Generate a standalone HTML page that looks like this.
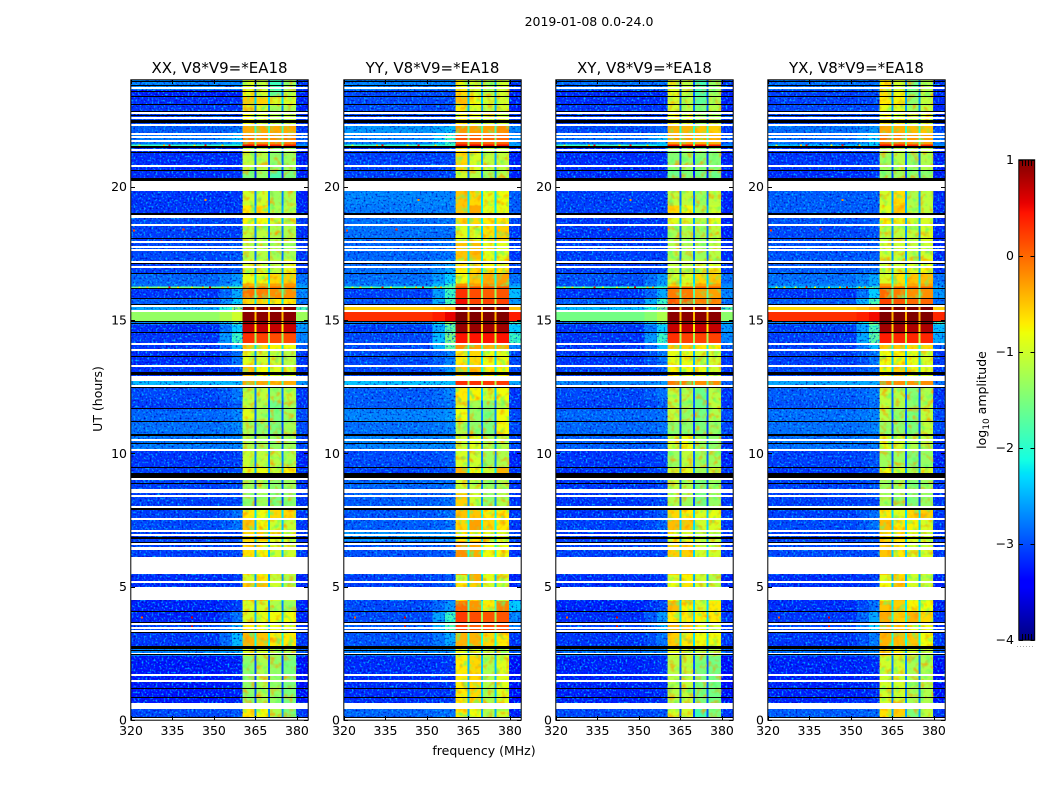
<!DOCTYPE html>
<html lang="en">
<head>
<meta charset="utf-8">
<title>2019-01-08 0.0-24.0</title>
<style>
  html, body { margin: 0; padding: 0; background: #fff; }
  svg { display: block; }
  text { font-family: "DejaVu Sans", "Liberation Sans", sans-serif; fill: #000; }
  .cell { shape-rendering: crispEdges; }
</style>
</head>
<body>
<svg id="chart" width="1050" height="800" viewBox="0 0 1050 800" xmlns="http://www.w3.org/2000/svg">
  <defs>
    <filter id="speckle" x="0" y="0" width="1" height="1" color-interpolation-filters="sRGB">
      <feTurbulence type="fractalNoise" baseFrequency="0.5" numOctaves="1" seed="3" result="n1"/>
      <feColorMatrix in="n1" type="matrix" values="0 0 0 0 0  0 0 0 0 .72  0 0 0 0 1  3.5 0 0 0 -1.75" result="light"/>
      <feColorMatrix in="n1" type="matrix" values="0 0 0 0 0  0 0 0 0 0  0 0 0 0 .7  0 3 0 0 -1.6" result="dark"/>
      <feMerge><feMergeNode in="light"/><feMergeNode in="dark"/></feMerge>
    </filter>
    <filter id="mottle" x="0" y="0" width="1" height="1" color-interpolation-filters="sRGB">
      <feTurbulence type="fractalNoise" baseFrequency="0.16" numOctaves="2" seed="8" result="n2"/>
      <feColorMatrix in="n2" type="matrix" values="0 0 0 0 1  0 0 0 0 .6  0 0 0 0 0  2.4 0 0 0 -1.2" result="warm"/>
      <feColorMatrix in="n2" type="matrix" values="0 0 0 0 .35  0 0 0 0 1  0 0 0 0 .45  0 2.4 0 0 -1.25" result="cool"/>
      <feMerge><feMergeNode in="warm"/><feMergeNode in="cool"/></feMerge>
    </filter>
  </defs>
  <text x="589" y="26" font-size="12.5" text-anchor="middle">2019-01-08 0.0-24.0</text>
  <text transform="translate(102,399) rotate(-90)" font-size="12.5" text-anchor="middle">UT (hours)</text>
  <text x="484" y="755" font-size="12.5" text-anchor="middle">frequency (MHz)</text>
  <text transform="translate(986,400) rotate(-90)" font-size="12.5" text-anchor="middle">log<tspan font-size="9" dy="3">10</tspan><tspan dy="-3"> amplitude</tspan></text>
</svg>
<script>
// ---- Chart data (hours, MHz, log10 amplitude) ----
const panelTitles = ["XX, V8*V9=*EA18", "YY, V8*V9=*EA18", "XY, V8*V9=*EA18", "YX, V8*V9=*EA18"];
const xTicks = [320, 335, 350, 365, 380];
const yTicks = [0, 5, 10, 15, 20];
const colorbarTicks = [-4, -3, -2, -1, 0, 1];

// Top edge (UT hours) of each time row; each row ends at the next one's top, the last at 0.
const rowTops = [24.00,23.62,23.36,23.05,22.79,22.30,22.00,21.59,21.48,20.61,19.83,19.30,19.00,18.55,17.99,17.27,16.75,16.37,16.25,16.18,15.81,15.55,15.32,14.95,14.83,14.50,14.12,13.89,13.29,12.73,12.50,11.98,11.64,11.19,10.70,10.14,9.46,9.09,8.49,7.92,7.55,7.10,6.72,5.44,5.14,4.47,4.06,3.64,3.27,2.74,2.40,0.64,0.41];

// Each row: [background, edge-of-band, block1, block2, block3, block4, above-band]
const seriesXX = [
[-2.4,-2.4,-.9,-1.1,-1.9,-1.3,-2.8],[-2.9,-2.9,-.85,-1,-1.7,-1.1,-2.9],[-2.85,-2.85,-.5,-.55,-.95,-.95,-2.9],[-2.8,-2.8,-.95,-1,-1.3,-1.2,-2.9],
[-2.7,-2.7,-.8,-1,-1.2,-1.1,-2.8],[-2.6,-2.5,-.35,-.35,-.35,-.35,-2.8],[-2.45,-2.1,-.1,-.2,-.2,-.1,-2.6],[-1.9,-1.9,.5,.5,.4,.4,-2.3],
[-2.85,-2.85,-1.1,-1.15,-1.4,-1.3,-2.9],[-2.85,-2.8,-1.5,-1.35,-1.8,-1.5,-2.9],[-2.8,-2.8,-1,-1,-1.3,-1.2,-2.9],[-2.8,-2.8,-.7,-.65,-1.2,-1.15,-2.9],
[-2.7,-2.75,-.75,-.8,-1,-1,-2.8],[-2.75,-2.75,-1.1,-1.1,-1.2,-1.2,-2.85],[-2.7,-2.65,-1.15,-1.15,-1.25,-1.25,-2.8],[-2.75,-2.6,-.95,-1,-1.1,-.9,-2.8],
[-2.55,-2.3,-.85,-.8,-.6,-.55,-2.5],[-2.5,-2.1,-.4,-.4,-.3,-.25,-2.3],[-1.6,-1.7,-.1,-.1,-.1,-.1,-2.2],[-2.8,-2.2,-.05,-.1,-.2,-.2,-2.4],
[-2.6,-2,-.6,-.6,-.7,-.7,-2.5],[-2.2,-1.3,.95,.95,.95,.95,-1.8],[-1.35,-1,.95,.95,.95,.95,-1.3],[-2.4,-1.7,.85,.85,.85,.85,-2.1],
[-2.85,-2,.7,.7,.7,.7,-2.3],[-2.8,-1.9,.3,.2,.15,.15,-2.4],[-2.8,-2.1,-.5,-.6,-.75,-.8,-2.6],[-2.85,-2.5,-.9,-1,-1.05,-1.15,-2.8],
[-2.8,-2.7,-.5,-.8,-.9,-.95,-2.8],[-2.1,-2.1,-.35,-.35,-.45,-.4,-2.3],[-2.7,-2.45,-1.1,-1.1,-1.3,-1.1,-2.8],[-2.75,-2.6,-1.1,-1.2,-1.6,-1.3,-2.8],
[-2.55,-2.4,-.9,-1.25,-1.5,-1.3,-2.7],[-2.5,-2.4,-1.25,-1.4,-1.5,-1.25,-2.7],[-2.45,-2.4,-1.2,-1.3,-1.35,-1.3,-2.7],[-2.8,-2.75,-1.05,-1.1,-1.15,-1.2,-2.9],
[-2.75,-2.7,-.9,-.85,-1.05,-.75,-2.8],[-2.75,-2.7,-1.3,-1.2,-1.4,-1.3,-2.8],[-2.75,-2.7,-1.4,-1.3,-1.5,-1.4,-2.8],[-2.75,-2.5,-.7,-.8,-.6,-.6,-2.8],
[-2.7,-2.5,-.5,-.8,-1,-1.05,-2.8],[-2.75,-2.7,-.6,-.5,-.9,-1,-2.8],[-2.75,-2.7,-.65,-.75,-1,-1,-2.8],[-2.85,-2.8,-1,-.7,-1.1,-1.2,-2.9],
[-2.85,-2.8,-.55,-.5,-1,-1.1,-2.9],[-2.9,-2.75,-.95,-1,-1.2,-1.3,-2.9],[-2.9,-2.5,-.95,-.85,-.8,-.8,-2.9],[-2.7,-2.15,-.7,-.8,-.85,-.9,-2.8],
[-2.8,-2.1,-.4,-.5,-.7,-.7,-2.8],[-2.4,-2.2,-.9,-1,-1.2,-1.2,-2.6],[-2.95,-2.9,-1.4,-1.2,-1.35,-1.5,-3],[-2.9,-2.9,-1.2,-1.1,-1.4,-1.5,-3],
[-2.7,-2.65,-.7,-.8,-1.2,-1.5,-2.8]];
const seriesYY = [
[-2.4,-2.4,-.75,-.95,-1.2,-1,-2.8],[-2.7,-2.7,-.6,-.9,-1.1,-1,-2.9],[-2.7,-2.7,-.45,-.8,-1,-1,-2.9],[-2.7,-2.7,-.7,-.95,-1.1,-1,-2.9],
[-2.7,-2.65,-.7,-.9,-1,-1,-2.8],[-2.3,-2.1,-.25,-.3,-.3,-.2,-2.4],[-2.4,-1.9,.1,.05,0,0,-2.3],[-1.9,-1.9,.55,.55,.5,.5,-2.2],
[-2.75,-2.7,-.6,-.95,-1.1,-1.1,-2.9],[-2.75,-2.7,-1,-1.15,-1.3,-1.2,-2.9],[-2.4,-2.4,-.5,-.6,-.9,-.8,-2.6],[-2.45,-2.45,-.5,-.35,-.9,-.85,-2.6],
[-2.5,-2.5,-.6,-.6,-.7,-.7,-2.7],[-2.5,-2.5,-.9,-.95,-.65,-.55,-2.8],[-2.55,-2.5,-.5,-.45,-.9,-.9,-2.8],[-2.5,-2.2,-.7,-.6,-.75,-.7,-2.7],
[-2.5,-2,-.8,-.5,-.35,-.3,-2.5],[-2.4,-1.9,-.2,-.3,-.2,-.2,-2.3],[-1.9,-1.7,.1,.1,.1,.1,-2.1],[-2.75,-1.9,.3,.15,.05,.1,-2.1],
[-2.65,-1.8,.5,.2,.2,.2,-2.3],[-.55,-.4,1,1,1,1,-.45],[.3,.55,1,1,1,1,.4],[-2.4,-1.3,1,1,1,1,-1.8],
[-2.75,-1.7,.9,.9,.85,.85,-2],[-2.7,-1.5,.45,.45,.45,.45,-1.9],[-2.7,-1.7,-.2,-.3,-.4,-.4,-2.4],[-2.7,-2.4,-.7,-.6,-.8,-.85,-2.7],
[-2.7,-2.3,-.5,-.45,-.7,-.75,-2.7],[-2.05,-2.05,.3,.3,.25,.25,-2.2],[-2.6,-2.4,-.7,-.75,-1,-.8,-2.8],[-2.6,-2.5,-.95,-1.25,-1.4,-1.15,-2.8],
[-2.4,-2.3,-.8,-1.35,-1.5,-.8,-2.7],[-2.5,-2.4,-1.2,-1.4,-1.5,-.8,-2.7],[-2.4,-2.4,-1,-.9,-1.2,-1.15,-2.7],[-2.7,-2.6,-.95,-1,-1.3,-1.2,-2.9],
[-2.75,-2.65,-.4,-.8,-1,-.4,-2.8],[-2.55,-2.5,-1,-1.1,-1.3,-1.2,-2.8],[-2.6,-2.5,-.55,-1,-1.4,-1.2,-2.8],[-2.65,-2.5,-.5,-.5,-.7,-.7,-2.8],
[-2.6,-2.5,-.6,-.3,-.6,-.7,-2.8],[-2.3,-2.3,-.7,-.7,-.9,-.9,-2.7],[-2.65,-2.6,-.2,-.35,-.8,-.8,-2.8],[-2.75,-2.65,-1,-.4,-.9,-1,-2.9],
[-2.75,-2.6,-.7,-.55,-1,-1.05,-2.9],[-2.7,-2.3,0,-.25,-.7,-.15,-2],[-2.7,-1.9,.25,.15,.1,.1,-2.4],[-2.6,-1.8,.2,.05,.15,.15,-2.4],
[-2.65,-2.2,-.4,-.4,-.6,-.7,-2.8],[-2.4,-2.3,-.85,-.9,-1.1,-1.1,-2.6],[-2.85,-2.8,-.7,-.6,-1.2,-.9,-3],[-2.85,-2.8,-.6,-.5,-1.1,-.9,-3],
[-2.55,-2.5,-.7,-.8,-1.2,-1,-2.9]];
const seriesXY = [
[-2.5,-2.5,-.95,-1.15,-1.85,-1.35,-2.8],[-2.85,-2.85,-.9,-1.1,-1.8,-1.3,-2.9],[-2.85,-2.85,-1,-1.1,-1.7,-1.2,-2.9],[-2.8,-2.8,-1,-1.15,-1.5,-1.15,-2.9],
[-2.75,-2.75,-.85,-.95,-1.35,-1.2,-2.8],[-2.7,-2.6,-.4,-.4,-.5,-.55,-2.8],[-2.5,-2.1,-.3,-.3,-.4,-.4,-2.6],[-1.9,-2,.5,.5,.5,.4,-2.3],
[-2.85,-2.85,-1.45,-1.35,-1.45,-1.45,-2.9],[-2.85,-2.85,-1.6,-1.5,-1.6,-1.6,-2.9],[-2.75,-2.75,-1.1,-1.1,-1.3,-1.1,-2.9],[-2.75,-2.75,-.6,-.8,-1.2,-1,-2.9],
[-2.8,-2.8,-.9,-1,-1.15,-.9,-2.9],[-2.8,-2.8,-1.25,-1.2,-1.3,-1.1,-2.9],[-2.75,-2.75,-1.2,-1.25,-1.3,-1.15,-2.85],[-2.75,-2.7,-1.1,-1.1,-1.05,-.9,-2.8],
[-2.65,-2.3,-1,-.95,-.6,-.5,-2.5],[-2.7,-2.2,-.7,-.9,-.35,-.3,-2.4],[-1.9,-1.9,0,0,0,0,-2.3],[-2.8,-2.2,-.1,-.1,-.3,-.3,-2.4],
[-2.6,-1.9,.1,0,-.1,-.1,-2.5],[-2.1,-1.5,.95,.95,.95,.95,-1.7],[-1.55,-1.2,.95,.95,.95,.95,-1.4],[-2.5,-1.6,.85,.85,.85,.85,-2.1],
[-2.8,-2,.7,.7,.7,.7,-2.3],[-2.8,-1.9,.3,.2,.2,.2,-2.4],[-2.8,-2.1,-.5,-.5,-.7,-.7,-2.6],[-2.8,-2.5,-.85,-.85,-1,-1,-2.8],
[-2.75,-2.6,-.75,-.8,-.85,-1,-2.8],[-2.4,-2.3,-.1,-.15,-.2,-.2,-2.6],[-2.7,-2.5,-1.1,-1.2,-1.6,-1.15,-2.8],[-2.75,-2.6,-1.15,-1.3,-1.6,-1.1,-2.8],
[-2.55,-2.5,-1.1,-1.35,-1.55,-1.2,-2.7],[-2.55,-2.5,-1.4,-1.4,-1.5,-1.35,-2.7],[-2.6,-2.55,-1,-.8,-1.3,-1.4,-2.8],[-2.8,-2.75,-1.3,-1.1,-1.3,-1.3,-2.9],
[-2.8,-2.7,-1,-.9,-1.3,-1,-2.8],[-2.8,-2.7,-1.1,-1.2,-1.5,-1.3,-2.8],[-2.8,-2.7,-1.2,-1.3,-1.55,-1.35,-2.8],[-2.8,-2.6,-.6,-.7,-.95,-.85,-2.8],
[-2.75,-2.6,-.45,-.5,-1,-.95,-2.8],[-2.8,-2.7,-.8,-.95,-1.1,-1.1,-2.8],[-2.75,-2.7,-.55,-.55,-1,-1,-2.8],[-2.85,-2.8,-.95,-.75,-1,-1.2,-2.9],
[-2.85,-2.8,-.8,-.65,-1,-1.1,-2.9],[-2.9,-2.7,-.45,-.75,-1,-.7,-2.9],[-2.85,-2.3,-.7,-.7,-.75,-.7,-2.8],[-2.7,-2.1,-.4,-.5,-.9,-1,-2.8],
[-2.8,-2.5,-.55,-.7,-.8,-.8,-2.8],[-2.5,-2.4,-.9,-.9,-1.1,-1.2,-2.6],[-2.9,-2.85,-1.15,-1.1,-1.5,-1.55,-3],[-2.9,-2.85,-1.1,-1.1,-1.5,-1.5,-3],
[-2.7,-2.65,-.95,-1,-1.9,-1.5,-2.8]];
const seriesYX = [
[-2.5,-2.5,-.7,-1,-1.6,-1.2,-2.8],[-2.75,-2.7,-.6,-.85,-1.45,-1.15,-2.85],[-2.75,-2.7,-.7,-.75,-1.4,-1.1,-2.85],[-2.7,-2.7,-.85,-.9,-1.3,-1.1,-2.85],
[-2.7,-2.65,-.75,-.85,-1.1,-1,-2.8],[-2.5,-2.3,-.35,-.4,-.45,-.5,-2.7],[-2.5,-2,-.05,-.1,-.25,-.3,-2.5],[-2,-2,.5,.5,.4,.4,-2.3],
[-2.8,-2.75,-1.3,-1.15,-1.35,-1.2,-2.9],[-2.85,-2.8,-1.4,-1.3,-1.4,-1.4,-2.9],[-2.6,-2.6,-1,-.65,-1.2,-1.1,-2.85],[-2.6,-2.6,-.9,-.5,-1.15,-1.1,-2.85],
[-2.65,-2.6,-.75,-.85,-1,-.95,-2.85],[-2.7,-2.65,-1.1,-1.1,-1.1,-.95,-2.85],[-2.65,-2.6,-1,-1.05,-1.1,-1,-2.85],[-2.6,-2.5,-.95,-1,-.95,-.8,-2.8],
[-2.5,-2.2,-.95,-.65,-.5,-.45,-2.5],[-2.4,-2.2,-.3,-.55,-.35,-.3,-2.4],[-2,-1.8,0,0,0,0,-2.2],[-2.8,-2,0,-.1,-.2,-.2,-2.3],
[-2.6,-1.8,.2,.1,0,0,-2.5],[-.6,-.3,1,1,1,1,-.55],[.3,.5,1,1,1,1,.35],[-2.4,-1.4,1,1,1,1,-1.8],
[-2.75,-1.8,.85,.85,.8,.8,-2.1],[-2.75,-1.7,.4,.35,.35,.35,-2.2],[-2.75,-2.1,-.5,-.5,-.6,-.6,-2.6],[-2.75,-2.5,-.8,-.75,-.85,-.95,-2.8],
[-2.7,-2.5,-.75,-.55,-.85,-.9,-2.8],[-2.2,-2.2,-.15,-.2,-.25,-.2,-2.5],[-2.6,-2.45,-1.1,-1.15,-1.45,-1.2,-2.8],[-2.65,-2.5,-1.1,-1.2,-1.4,-1.15,-2.8],
[-2.5,-2.4,-1.15,-1.35,-1.5,-1.1,-2.7],[-2.5,-2.4,-1.35,-1.4,-1.5,-1.1,-2.7],[-2.5,-2.45,-.9,-1,-1.2,-1.15,-2.8],[-2.75,-2.65,-1.3,-1.3,-1.45,-1.35,-2.9],
[-2.8,-2.7,-.8,-.95,-1.25,-.95,-2.8],[-2.75,-2.65,-1.3,-1.25,-1.45,-1.3,-2.8],[-2.75,-2.7,-1.25,-1.35,-1.5,-1.35,-2.8],[-2.75,-2.5,-.7,-.9,-.6,-.55,-2.8],
[-2.7,-2.5,-.45,-.7,-.75,-.95,-2.8],[-2.75,-2.65,-.6,-.65,-.95,-1.05,-2.8],[-2.7,-2.65,-.5,-.7,-.95,-.95,-2.8],[-2.85,-2.75,-.9,-.6,-1,-1.1,-2.9],
[-2.85,-2.75,-.8,-.5,-.95,-1.05,-2.9],[-2.85,-2.5,-.5,-.55,-.75,-.8,-2.9],[-2.8,-2.2,-.35,-.55,-.4,-.6,-2.8],[-2.7,-2,-.35,-.5,-.85,-.85,-2.8],
[-2.8,-2.45,-.4,-.45,-.5,-.8,-2.8],[-2.5,-2.4,-.6,-.7,-1,-1.1,-2.6],[-2.9,-2.85,-1,-1,-1.25,-1.2,-3],[-2.9,-2.85,-1,-1,-1.25,-1.2,-3],
[-2.6,-2.55,-.65,-.55,-1.5,-1.1,-2.8]];

// Flagged time ranges [top, bottom] in UT hours, shared by all panels.
const whiteGaps = [[23.74,23.67],[22.81,22.76],[22.60,22.53],[22.34,22.27],[22.02,21.98],[21.90,21.86],[21.74,21.70],[21.40,21.33],[20.83,20.78],[20.20,19.83],[18.95,18.83],[18.60,18.56],[17.96,17.92],[17.77,17.70],[17.65,17.61],[17.22,17.18],[17.01,16.97],[15.58,15.52],[15.37,15.33],[14.15,14.10],[13.93,13.88],[13.33,13.28],[12.91,12.73],[12.55,12.50],[10.52,10.47],[10.15,10.10],[9.06,9.01],[8.66,8.50],[8.42,8.38],[8.02,7.96],[7.58,7.54],[7.14,7.09],[6.99,6.94],[6.62,6.58],[6.49,6.36],[6.10,5.47],[5.22,5.14],[4.97,4.47],[3.62,3.57],[3.50,3.45],[3.38,3.28],[2.50,2.45],[1.73,1.68],[1.49,1.44],[0.64,0.41],[0.06,0]];
const blackLines = [[23.98,23.95],[23.83,23.79],[23.60,23.56],[23.39,23.35],[23.09,23.05],[22.84,22.80],[22.70,22.66],[22.50,22.38],[21.52,21.45],[21.31,21.27],[20.62,20.58],[20.33,20.22],[19.03,18.97],[18.07,18.03],[17.13,17.09],[16.76,16.72],[16.20,16.16],[15.84,15.80],[15.59,15.56],[14.97,14.93],[14.89,14.85],[14.55,14.51],[13.64,13.60],[13.04,12.91],[12.49,12.45],[11.69,11.65],[11.22,11.18],[10.73,10.66],[10.37,10.33],[9.49,9.45],[9.27,9.07],[8.87,8.83],[7.95,7.88],[6.87,6.78],[6.68,6.64],[4.08,4.04],[3.67,3.63],[3.30,3.26],[2.79,2.68],[2.61,2.57],[2.46,2.42],[1.20,1.16],[0.85,0.81],[0.10,0.06]];

// Isolated interference points: [hour, MHz, log10 amplitude]
const rfiPoints = [[16.22,323,-.9],[16.22,326,-.6],[16.22,330,-1],[16.22,334,.5],[16.22,337,-.8],[16.22,342,-.9],[16.22,346,-.5],[16.22,348.5,.6],[16.22,353,-.5],[16.22,355,-.3],[21.55,323,-1],[21.55,332,-.5],[21.55,334,.5],[21.55,343,-.8],[21.55,347,.4],[21.55,353,-.6],[3.85,324,.1],[3.85,342,.6],[3.5,342,.5],[17.95,331,.4],[17.95,348,.5],[18.35,321,.2],[19.5,347,-.2],[18.4,339,.3]];

// ---- Scales ----
const plotTop = 80, plotBottom = 720, plotWidth = 177;
const panelLefts = [131, 344, 556, 768];
const xMin = 320, xMax = 384, yMin = 0, yMax = 24;
function xScale(left, mhz) { return left + (mhz - xMin) / (xMax - xMin) * plotWidth; }
function yScale(hour) { return plotBottom - (hour - yMin) / (yMax - yMin) * (plotBottom - plotTop); }

// Frequency column edges: background, two-step band edge, four blocks with narrow gaps, above band.
const columnEdges = [320, 352, 356.5, 360.4, 364.6, 365.3, 369.6, 370.3, 374.5, 375.2, 379.7, 384];

// Quiet levels read slightly high against the colorbar; this offset applies to them only.
const quietOffset = -0.35;
function calibrate(v) { return v < -1.95 ? v + quietOffset : v; }

// Jet colormap control points: [position, value] per channel
const jetRed = [[0,0],[.35,0],[.66,1],[.89,1],[1,.5]];
const jetGreen = [[0,0],[.125,0],[.375,1],[.64,1],[.91,0],[1,0]];
const jetBlue = [[0,.5],[.11,1],[.34,1],[.65,0],[1,0]];
const colorMin = -4, colorMax = 1;
function channelAt(stops, p) {
  for (let i = 1; i < stops.length; i++) {
    if (p <= stops[i][0]) {
      const a = stops[i - 1], b = stops[i];
      return a[1] + (b[1] - a[1]) * (p - a[0]) / (b[0] - a[0]);
    }
  }
  return stops[stops.length - 1][1];
}
function colorOf(v) {
  const p = Math.min(1, Math.max(0, (v - colorMin) / (colorMax - colorMin)));
  const c = [jetRed, jetGreen, jetBlue].map(s => Math.round(channelAt(s, p) * 255));
  return 'rgb(' + c.join(',') + ')';
}

const SVGNS = 'http://www.w3.org/2000/svg';
const root = document.getElementById('chart');
function make(tag, parent) {
  const el = document.createElementNS(SVGNS, tag);
  parent.appendChild(el);
  return el;
}
function box(parent, x, y, w, h, fill) {
  const el = make('rect', parent);
  el.setAttribute('x', x);
  el.setAttribute('y', y);
  el.setAttribute('width', w);
  el.setAttribute('height', h);
  el.setAttribute('fill', fill);
  el.setAttribute('class', 'cell');
  return el;
}
function line(parent, x1, y1, x2, y2) {
  const el = make('line', parent);
  el.setAttribute('x1', x1);
  el.setAttribute('y1', y1);
  el.setAttribute('x2', x2);
  el.setAttribute('y2', y2);
  el.setAttribute('stroke', '#000');
  el.setAttribute('stroke-width', '1');
  return el;
}
function label(parent, x, y, str, anchor, size) {
  const el = make('text', parent);
  el.setAttribute('x', x);
  el.setAttribute('y', y);
  el.setAttribute('text-anchor', anchor);
  el.setAttribute('font-size', size);
  el.textContent = str;
  return el;
}

const allSeries = [seriesXX, seriesYY, seriesXY, seriesYX];

allSeries.forEach(function (series, pi) {
  const left = panelLefts[pi];
  const g = make('g', root);
  
  

  // Heatmap cells
  series.forEach(function (row, ri) {
    const top = rowTops[ri];
    const bottom = ri + 1 < rowTops.length ? rowTops[ri + 1] : 0;
    const y0 = yScale(top), y1 = yScale(bottom);
    const blockMean = (row[2] + row[3] + row[4] + row[5]) / 4;
    const gap = 1.1 * blockMean - 1.5;
    const bg = calibrate(row[0]), edge = calibrate(row[1]);
    const cols = [bg, bg + (edge - bg) * 0.4, edge, row[2], gap, row[3], gap, row[4], gap, row[5], calibrate(row[6])];
    cols.forEach(function (v, ci) {
      const x0 = xScale(left, columnEdges[ci]), x1 = xScale(left, columnEdges[ci + 1]);
      const c = box(g, x0, y0, x1 - x0, y1 - y0, colorOf(v));
      
      
    });
    // Grain over the quiet background (texture only, carries no data values)
    if (row[0] < -1.9) {
      const n = box(g, left, y0, xScale(left, 360.4) - left, y1 - y0, '#000');
      n.setAttribute('filter', 'url(#speckle)');
      
      
      const n2 = box(g, xScale(left, 379.7), y0, left + plotWidth - xScale(left, 379.7), y1 - y0, '#000');
      n2.setAttribute('filter', 'url(#speckle)');
      
      
    }
    // Soft mottling inside the calmer band blocks (texture only)
    if (blockMean < 0) {
      [[360.4, 364.6], [365.3, 369.6], [370.3, 374.5], [375.2, 379.7]].forEach(function (span) {
        const x0 = xScale(left, span[0]), x1 = xScale(left, span[1]);
        const m = box(g, x0, y0, x1 - x0, y1 - y0, '#000');
        m.setAttribute('filter', 'url(#mottle)');
        
        
      });
    }
  });

  // Interference points
  rfiPoints.forEach(function (pt) {
    const r = box(g, xScale(left, pt[1]) - 1, yScale(pt[0]) - 1, 2, 2, colorOf(pt[2]));
    
    
  });

  // Flagged rows
  whiteGaps.forEach(function (b) {
    const y = Math.round(yScale(b[0]));
    const r = box(g, left, y, plotWidth, Math.max(2, Math.round(yScale(b[1]) - yScale(b[0]))), '#fff');
    
    
  });
  blackLines.forEach(function (b) {
    const y = Math.round(yScale(b[0]));
    const r = box(g, left, y, plotWidth, Math.max(1, Math.round(yScale(b[1]) - yScale(b[0]))), '#000');
    
    
  });

  // Frame
  const frame = make('rect', g);
  frame.setAttribute('x', left - 0.2);
  frame.setAttribute('y', plotTop - 0.2);
  frame.setAttribute('width', plotWidth + 0.4);
  frame.setAttribute('height', plotBottom - plotTop + 0.4);
  frame.setAttribute('fill', 'none');
  frame.setAttribute('stroke', '#000');
  frame.setAttribute('stroke-width', '1');
  
  

  // Title
  const title = label(g, left + plotWidth / 2, 73, panelTitles[pi], 'middle', 15);
  
  

  // X ticks
  xTicks.forEach(function (t) {
    const x = Math.round(xScale(left, t)) + 0.5;
    const a = line(g, x, plotBottom, x, plotBottom - 4);
    
    
    const b = line(g, x, plotTop, x, plotTop + 4);
    
    
    const l = label(g, xScale(left, t), 735, String(t), 'middle', 12.5);
    
    
  });

  // Y ticks
  yTicks.forEach(function (t) {
    const y = Math.round(yScale(t)) + 0.5;
    const a = line(g, left, y, left + 4, y);
    
    
    const b = line(g, left + plotWidth, y, left + plotWidth - 4, y);
    
    
    const l = label(g, left - 4, yScale(t) + 4.5, String(t), 'end', 12.5);
    
    
  });
});

// ---- Colorbar ----
const cbarLeft = 1019, cbarWidth = 15.5, cbarTop = 160, cbarBottom = 640;
function cbarY(v) { return cbarBottom - (v - colorMin) / (colorMax - colorMin) * (cbarBottom - cbarTop); }
const cbar = make('g', root);


for (let py = cbarTop; py < cbarBottom; py++) {
  const v = colorMax - (py + 0.5 - cbarTop) / (cbarBottom - cbarTop) * (colorMax - colorMin);
  const s = box(cbar, cbarLeft, py, cbarWidth, 1, colorOf(v));
  
  
}
const cbarFrame = make('rect', cbar);
cbarFrame.setAttribute('x', cbarLeft - 0.2);
cbarFrame.setAttribute('y', cbarTop - 0.2);
cbarFrame.setAttribute('width', cbarWidth + 0.4);
cbarFrame.setAttribute('height', cbarBottom - cbarTop + 0.4);
cbarFrame.setAttribute('fill', 'none');
cbarFrame.setAttribute('stroke', '#000');
cbarFrame.setAttribute('stroke-width', '1');


colorbarTicks.forEach(function (t) {
  const y = Math.round(cbarY(t)) + 0.5;
  const a = line(cbar, cbarLeft, y, cbarLeft + 4, y);
  
  
  const b = line(cbar, cbarLeft + cbarWidth, y, cbarLeft + cbarWidth - 4, y);
  
  
  const txt = t < 0 ? '\u2212' + Math.abs(t) : String(t);
  const l = label(cbar, 1014, cbarY(t) + 4, txt, 'end', 12.5);
  
  
});
[3, 6, 9, 12].forEach(function (dx) {
  const a = line(cbar, cbarLeft + dx + 0.5, cbarTop, cbarLeft + dx + 0.5, cbarTop + 6);
  
  
  const b = line(cbar, cbarLeft + dx + 0.5, cbarBottom, cbarLeft + dx + 0.5, cbarBottom - 6);
  
  
});
[1017, 1020, 1023, 1026, 1029, 1032].forEach(function (x) {
  const d = box(cbar, x, 646, 1, 1, '#aaa');
  
  
});
</script>
</body>
</html>
